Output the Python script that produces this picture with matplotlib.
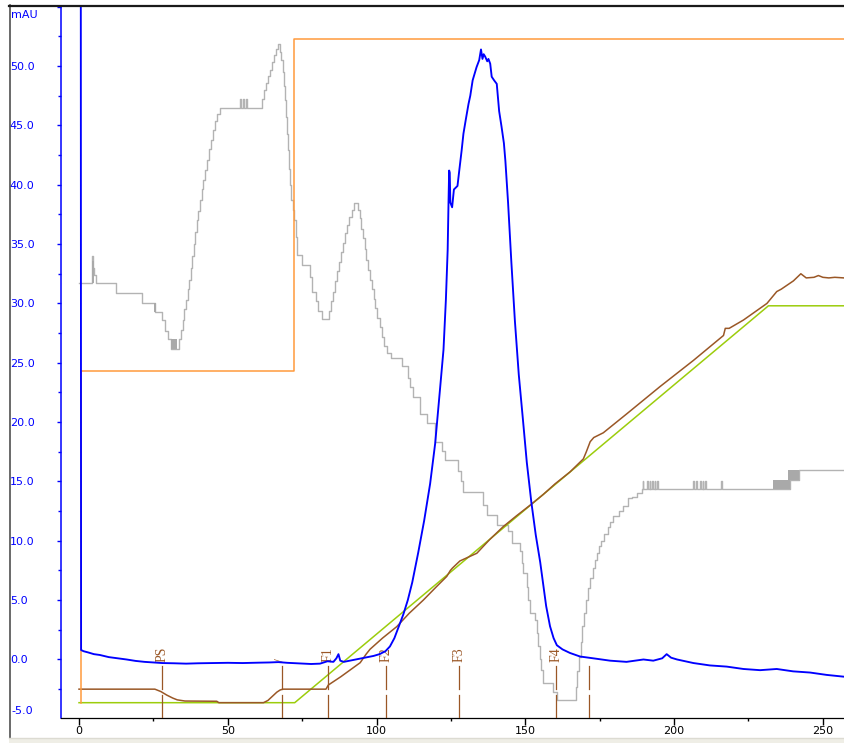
import matplotlib
matplotlib.use("Agg")
import matplotlib.pyplot as plt
from matplotlib.lines import Line2D
from matplotlib.patches import Rectangle
from matplotlib.ticker import FixedLocator, FixedFormatter, MultipleLocator

# ---------------------------------------------------------------- data
# UV absorbance trace (mAU) vs. volume (ml)
uv_t = [0.6, 0.7, 1.5, 3.0, 5.0, 7.0, 10.0, 13.0, 16.0, 19.0, 22.0, 25.0, 28.0,
        32.0, 36.0, 40.0, 45.0, 50.0, 55.0, 60.0, 64.0, 67.0, 70.0, 74.0, 78.0,
        81.0, 83.5, 85.5, 86.5, 87.2, 87.8, 89.0, 92.0, 95.0, 97.0, 99.0, 101.0,
        103.0, 104.5, 106.0, 107.5, 109.0, 110.5, 112.0, 114.0, 116.0, 118.0,
        119.7, 121.3, 122.5, 123.3, 123.9, 124.2, 124.4, 124.6, 124.8, 125.4,
        126.0, 127.2, 127.8, 128.6, 129.2, 130.0, 130.9, 131.5, 132.3, 133.6,
        134.5, 135.1, 135.6, 136.0, 136.5, 137.2, 137.6, 138.2, 138.7, 139.5,
        140.4, 141.2, 142.0, 142.8, 143.3, 144.2, 145.3, 146.5, 147.8, 149.2,
        150.5, 152.0, 153.5, 155.0, 157.0, 158.3, 159.5, 160.6, 162.5, 165.0,
        168.4, 172.8, 178.5, 184.0, 189.7, 193.0, 196.0, 197.5, 199.0, 201.0,
        206.5, 212.0, 217.7, 223.3, 228.9, 234.5, 240.0, 245.7, 251.3, 257.1]
uv_v = [60.0, 0.8, 0.7, 0.6, 0.45, 0.38, 0.2, 0.1, 0.0, -0.12, -0.2, -0.25, -0.3,
        -0.32, -0.35, -0.32, -0.3, -0.28, -0.3, -0.27, -0.25, -0.22, -0.28, -0.33,
        -0.38, -0.35, -0.15, -0.2, 0.1, 0.45, -0.1, -0.2, -0.05, 0.1, 0.2, 0.3,
        0.45, 0.7, 1.1, 1.8, 2.8, 3.8, 5.0, 6.5, 9.0, 11.7, 14.8, 18.2, 22.7,
        26.1, 30.3, 34.5, 38.7, 41.2, 41.0, 38.5, 38.1, 39.6, 39.9, 41.2, 42.9,
        44.3, 45.5, 46.8, 47.5, 48.8, 49.9, 50.5, 51.4, 50.6, 51.0, 50.8, 50.4,
        50.6, 50.2, 49.1, 48.8, 48.5, 46.2, 44.9, 43.5, 42.0, 38.5, 33.5, 28.5,
        24.0, 20.2, 16.6, 13.3, 10.5, 8.2, 4.5, 2.8, 1.8, 1.2, 0.85, 0.55, 0.25,
        0.1, -0.1, -0.2, 0.0, -0.1, 0.1, 0.45, 0.15, 0.0, -0.3, -0.5, -0.6, -0.8,
        -0.9, -0.8, -1.0, -1.1, -1.3, -1.45]

# conductivity trace (stepped signal), value held until the next entry
cond_t = [0.0, 4.3, 4.6, 5.0, 5.6, 12.3, 21.3, 25.5, 28.0, 29.0, 29.8, 31.0,
          33.5, 34.2, 34.8, 35.4, 36.0, 36.5, 37.0, 37.5, 38.0, 38.5, 39.0, 39.6,
          40.1, 40.7, 41.3, 41.8, 42.4, 43.0, 43.6, 44.2, 44.9, 45.7, 46.5, 47.4,
          54.0, 54.3, 55.0, 55.3, 56.0, 56.3, 61.5, 62.2, 62.9, 63.6, 64.2, 64.9,
          65.6, 66.3, 67.0, 67.6, 68.0, 68.4, 68.8, 69.2, 69.6, 70.0, 70.3, 70.7,
          71.0, 71.3, 71.8, 72.4, 72.8, 73.3, 74.8, 77.6, 78.3, 79.5, 80.2, 81.5,
          83.9, 84.6, 85.3, 86.0, 86.7, 87.4, 88.1, 88.8, 89.5, 90.2, 90.9, 91.6,
          92.4, 93.8, 94.3, 94.8, 95.4, 96.0, 96.6, 97.2, 97.8, 98.4, 99.0, 99.6,
          100.3, 101.0, 101.8, 102.6, 103.6, 105.0, 108.7, 110.7, 111.3, 112.4,
          114.6, 116.9, 119.7, 121.9, 123.0, 127.5, 128.3, 129.0, 135.9, 137.0,
          140.4, 144.3, 145.4, 148.2, 148.8, 149.3, 150.5, 151.0, 151.6, 153.3,
          153.8, 154.4, 155.0, 155.3, 155.8, 159.4, 160.8, 167.0, 167.5, 168.0,
          168.6, 169.2, 169.8, 170.5, 171.2, 171.9, 172.6, 173.3, 174.0, 174.7,
          175.5, 176.4, 177.9, 178.5, 179.6, 181.6, 182.7, 184.4, 185.8, 187.5,
          189.1, 189.4, 189.6, 190.9, 191.1, 191.8, 192.0, 192.6, 192.8, 193.5,
          193.7, 194.4, 194.6, 206.5, 206.7, 207.4, 207.6, 208.8, 209.0, 209.6,
          209.8, 210.4, 210.6, 215.8, 216.0, 239.0, 242.0, 257.1]
cond_v = [31.7, 34.0, 33.0, 32.4, 31.7, 30.9, 30.0, 29.3, 28.6, 27.7, 27.0, 26.2,
          27.0, 27.8, 28.6, 29.5, 30.3, 31.2, 32.0, 33.0, 34.0, 35.0, 36.0, 37.0,
          37.8, 38.7, 39.6, 40.4, 41.2, 42.1, 43.0, 43.8, 44.6, 45.4, 46.0, 46.5,
          47.2, 46.5, 47.2, 46.5, 47.2, 46.5, 47.2, 48.0, 48.6, 49.2, 49.7, 50.3,
          50.9, 51.4, 51.9, 51.2, 50.5, 49.5, 48.3, 47.1, 45.7, 44.3, 42.9, 41.3,
          40.0, 38.7, 37.9, 37.0, 35.6, 34.1, 33.2, 32.2, 31.0, 30.2, 29.4, 28.7,
          29.4, 30.2, 31.0, 31.9, 32.7, 33.5, 34.3, 35.1, 35.9, 36.6, 37.3, 37.9,
          38.5, 37.9, 37.2, 36.3, 35.5, 34.6, 33.7, 32.8, 32.0, 31.2, 30.4, 29.6,
          28.8, 28.0, 27.2, 26.4, 25.8, 25.4, 24.7, 23.7, 23.0, 22.1,
          20.7, 19.9, 18.3, 17.6, 16.8, 15.9, 15.0, 14.1, 13.0, 12.2,
          11.3, 10.8, 9.8, 9.1, 8.1, 7.3, 6.1, 5.0, 3.9, 3.3,
          2.2, 1.1, 0.0, -0.9, -2.0, -2.7, -3.4, -2.3, -1.0, 0.2,
          1.5, 2.8, 3.9, 5.0, 6.0, 6.9, 7.7, 8.4, 9.0, 9.6,
          10.0, 10.6, 11.2, 11.6, 12.1, 12.5, 12.9, 13.6, 13.7, 14.0,
          14.4, 15.0, 14.4, 15.0, 14.4, 15.0, 14.4, 15.0, 14.4, 15.0,
          14.4, 15.0, 14.4, 15.0, 14.4, 15.0, 14.4, 15.0, 14.4, 15.0,
          14.4, 15.0, 14.4, 15.0, 14.4, 15.1, 16.0, 16.0]
# stretches where the conductivity signal flickers between two levels
cond_flicker = [(4.4, 5.0, 31.7, 33.6), (25.2, 25.9, 29.3, 30.0),
                (31.0, 33.0, 26.2, 27.0), (233.4, 239.0, 14.4, 15.1),
                (238.4, 242.0, 15.1, 16.0)]

# buffer B concentration: set point and measured
gradient_t = [0.0, 72.5, 231.7, 257.1]
gradient_v = [-3.64, -3.64, 29.8, 29.8]
conc_t = [0.0, 25.5, 27.5, 29.5, 31.5, 33.0, 35.6, 46.3, 47.0, 62.0, 63.5, 65.0,
          66.5, 67.6, 68.5, 83.0, 83.8, 88.0, 94.5, 96.5, 97.8, 102.0, 106.8,
          111.0, 115.7, 120.0, 123.6, 124.8, 125.5, 128.0, 133.7, 138.0, 142.6,
          147.0, 151.6, 156.0, 160.0, 165.0, 169.5, 170.5, 171.8, 173.0, 176.2,
          184.1, 195.3, 206.5, 216.6, 217.2, 218.5, 223.3, 231.2, 234.5, 236.0,
          240.1, 242.6, 244.4, 247.0, 248.5, 250.0, 252.0, 254.0, 257.1]
conc_v = [-2.5, -2.5, -2.7, -3.0, -3.25, -3.4, -3.5, -3.52, -3.64, -3.64, -3.45,
          -3.1, -2.75, -2.57, -2.5, -2.5, -2.15, -1.45, -0.27, 0.45, 0.86, 1.8,
          2.77, 3.9, 5.0, 6.1, 7.0, 7.5, 7.7, 8.3, 8.95, 10.1, 11.2, 12.1, 13.0,
          13.9, 14.8, 15.8, 16.9, 17.5, 18.35, 18.7, 19.1, 20.7, 23.0, 25.2,
          27.3, 27.9, 27.9, 28.6, 30.0, 31.0, 31.2, 31.9, 32.5, 32.15, 32.2,
          32.35, 32.2, 32.15, 32.2, 32.15]

# flow / system pressure step trace
flow_t = [0.6, 0.6, 72.3, 72.3, 257.1]
flow_v = [-3.64, 24.3, 24.3, 52.25, 52.25]

# fraction / event marks
mark_t = [27.8, 68.1, 83.8, 103.2, 127.8, 160.3, 171.4]
mark_lab = ["PS", "/", "F1", "F2", "F3", "F4", ""]

y_ticks = [0, 5, 10, 15, 20, 25, 30, 35, 40, 45, 50, 55]
y_labels = ["0.0", "5.0", "10.0", "15.0", "20.0", "25.0", "30.0", "35.0",
            "40.0", "45.0", "50.0", ""]
x_ticks = [0, 50, 100, 150, 200, 250]

# ---------------------------------------------------------------- styles
BLUE = "#0000ff"
ORANGE = "#ff9a3c"
GRAY = "#b3b3b3"
BROWN = "#9a5726"
GREEN = "#9ccd0c"

W, H = 844, 743
fig = plt.figure(figsize=(W / 100, H / 100), dpi=100)
fig.patch.set_facecolor("white")
ax = fig.add_axes([61 / W, 25 / H, 783 / W, 712 / H])
ax.set_xlim(-6.05, 257.1)
ax.set_ylim(-4.93, 55.06)

# traces
ax.step(cond_t, cond_v, where="post", color=GRAY, lw=1.0, zorder=2)
for t0, t1, lo, hi in cond_flicker:
    ax.fill_between([t0, t1], [lo, lo], [hi, hi], color="#a9a9a9", lw=0, zorder=2)
ax.plot(gradient_t, gradient_v, color=GREEN, lw=1.1, zorder=3)
ax.plot(conc_t, conc_v, color=BROWN, lw=1.1, zorder=4)
ax.plot(flow_t, flow_v, color=ORANGE, lw=1.1, zorder=4)

# fraction marks: two dashes below the baseline, label on top
mark_top, gap_top, gap_bot = -0.55, -2.51, -2.99
y0 = ax.get_ylim()[0]
for t, lab in zip(mark_t, mark_lab):
    ax.plot([t, t], [gap_top, mark_top], color=BROWN, lw=0.9, zorder=5)
    ax.plot([t, t], [y0, gap_bot], color=BROWN, lw=0.9, zorder=5)
    if lab:
        ax.text(t, -0.2, lab, rotation=90, ha="center", va="bottom",
                fontsize=10, family="Liberation Serif", color=BROWN, zorder=5)

ax.plot(uv_t, uv_v, color=BLUE, lw=1.35, zorder=6)

# axes
for s in ("top", "right"):
    ax.spines[s].set_visible(False)
ax.spines["left"].set_color(BLUE)
ax.spines["left"].set_linewidth(1.1)
ax.spines["bottom"].set_color("black")
ax.spines["bottom"].set_linewidth(0.9)

ax.yaxis.set_major_locator(FixedLocator(y_ticks))
ax.yaxis.set_major_formatter(FixedFormatter(y_labels))
ax.yaxis.set_minor_locator(MultipleLocator(2.5))
ax.tick_params(axis="y", which="major", direction="out", length=3, width=1,
               color=BLUE, labelcolor=BLUE, labelsize=8, pad=33.8)
ax.tick_params(axis="y", which="minor", direction="out", length=2, width=1,
               color=BLUE)
plt.setp(ax.get_yticklabels(), ha="left")

ax.xaxis.set_major_locator(FixedLocator(x_ticks))
ax.xaxis.set_minor_locator(MultipleLocator(25))
ax.tick_params(axis="x", which="major", direction="out", length=5, width=1,
               color="black", labelcolor="black", labelsize=8, pad=1)
ax.tick_params(axis="x", which="minor", direction="out", length=2.5, width=1,
               color="black")

fig.text(11 / W, 1 - 15.5 / H, "mAU", color=BLUE, fontsize=8,
         ha="left", va="center")
fig.text(11 / W, 1 - 710.5 / H, "-5.0", color=BLUE, fontsize=8,
         ha="left", va="center")

# window frame
fig.add_artist(Line2D([9.5 / W, 9.5 / W], [5 / H, 1 - 5 / H],
                      color="#505050", lw=1.2))
fig.add_artist(Line2D([9 / W, 1], [1 - 5.5 / H, 1 - 5.5 / H],
                      color="#1a1a1a", lw=1.6))
fig.add_artist(Rectangle((9 / W, 0), 1, 5 / H, transform=fig.transFigure,
                         facecolor="#efeee6", edgecolor="none"))
fig.add_artist(Line2D([9 / W, 1], [5 / H, 5 / H], color="#dcdbd2", lw=1))

fig.savefig("out.png", dpi=100)
